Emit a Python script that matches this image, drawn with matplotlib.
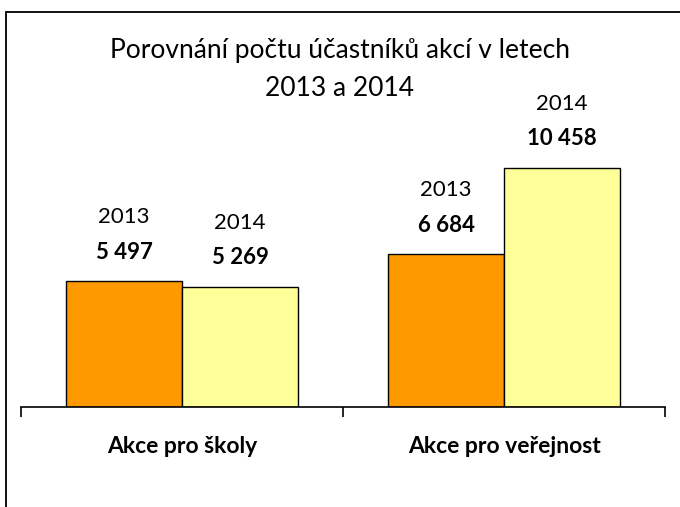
import matplotlib.pyplot as plt
from matplotlib.patches import Rectangle
import numpy as np

plt.rcParams['font.family'] = ['Lato', 'DejaVu Sans']

# data
categories = ["Akce pro školy", "Akce pro veřejnost"]
years = ["2013", "2014"]
vals_2013 = [5497, 6684]
vals_2014 = [5269, 10458]
labels_2013 = ["5 497", "6 684"]
labels_2014 = ["5 269", "10 458"]

fig = plt.figure(figsize=(6.8, 5.07), dpi=100)

# border of the chart area (cut off at right and bottom)
fig.patches.append(Rectangle((6 / 680, -0.1), 1.0, 1 - 12 / 507 + 0.1,
                             transform=fig.transFigure, fill=False,
                             edgecolor="black", linewidth=1.3))

ax = fig.add_axes([21 / 680, (507 - 407) / 507, 644 / 680, 287 / 507])

x = np.arange(len(categories))
w = 0.36
b1 = ax.bar(x - w / 2, vals_2013, w, color="#FF9900", edgecolor="black", linewidth=1)
b2 = ax.bar(x + w / 2, vals_2014, w, color="#FFFF99", edgecolor="black", linewidth=1)

for bars, labs, yr in [(b1, labels_2013, years[0]), (b2, labels_2014, years[1])]:
    for bar, lab in zip(bars, labs):
        cx = bar.get_x() + bar.get_width() / 2
        h = bar.get_height()
        ax.annotate(lab, (cx, h), xytext=(0, 21), textcoords="offset points",
                    ha="center", va="center", fontsize=16, fontweight="bold")
        ax.annotate(yr, (cx, h), xytext=(0, 46), textcoords="offset points",
                    ha="center", va="center", fontsize=16)

ax.set_xlim(-0.5, 1.5)
ax.set_ylim(0, 12555)
for s in ["top", "right", "left"]:
    ax.spines[s].set_visible(False)
ax.spines["bottom"].set_linewidth(1.2)
ax.set_yticks([])
ax.set_xticks([-0.5, 0.5, 1.5])
ax.set_xticklabels([])
ax.tick_params(axis="x", length=7, width=1.2)
for i, c in enumerate(categories):
    ax.text(i, -1720, c, ha="center", va="center", fontsize=16.5, fontweight="bold")

fig.text(0.5, 1 - 50 / 507, "Porovnání počtu účastníků akcí v letech",
         ha="center", va="center", fontsize=19)
fig.text(0.5, 1 - 88 / 507, "2013 a 2014", ha="center", va="center", fontsize=19)

plt.savefig("out.png", dpi=100)
